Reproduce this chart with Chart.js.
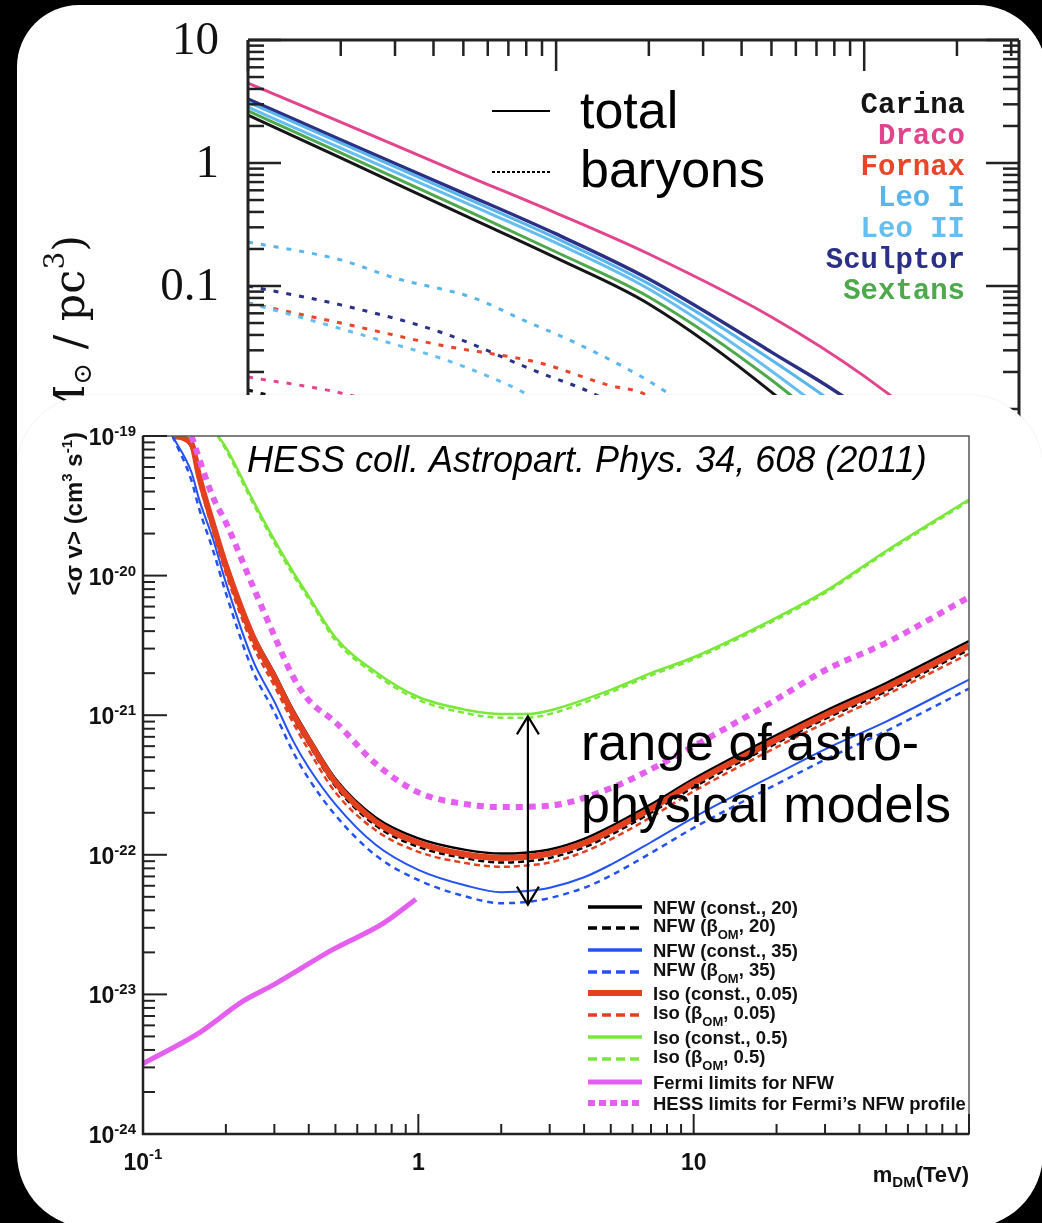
<!DOCTYPE html>
<html>
<head>
<meta charset="utf-8">
<script src="https://cdn.jsdelivr.net/npm/chart.js@4.4.1/dist/chart.umd.min.js"></script>
<style>
  html, body { margin: 0; padding: 0; background: #000; }
  #page { position: relative; width: 1042px; height: 1223px; overflow: hidden; background: #000; }
  .panel { position: absolute; background: #fff; }
  #topPanel { left: 17px; top: 5px; width: 1030px; height: 600px; border-radius: 62px 70px 0 0; }
  #botPanel { left: 17px; top: 395px; width: 1026px; height: 833px; border-radius: 75px; box-shadow: 0 0 2px rgba(0,0,0,0.12); }
  #topCanvas { position: absolute; left: 0; top: 0; }
  #botCanvas { position: absolute; left: 0; top: 395px; }
</style>
</head>
<body>
<div id="page">
  <div class="panel" id="topPanel"></div>
  <canvas id="topCanvas" width="1042" height="600"></canvas>
  <div class="panel" id="botPanel"></div>
  <canvas id="botCanvas" width="1042" height="828"></canvas>
</div>
<script>
// ---------- upper panel: dwarf galaxy density profiles (kpc, Msun/pc^3) ----------
const radius = [0.01, 0.02, 0.05, 0.1, 0.2, 0.5, 1, 2, 3];
const carinaTotal   = [2.45, 1.10, 0.378, 0.169, 0.0714, 0.0137, 0.0029, 0.0005, 0.0002];
const dracoTotal    = [4.47, 2.15, 0.81, 0.392, 0.182, 0.056, 0.0185, 0.0047, 0.0018];
const leoITotal     = [3.13, 1.46, 0.530, 0.245, 0.104, 0.025, 0.0072, 0.0014, 0.0005];
const leoIITotal    = [2.85, 1.32, 0.482, 0.224, 0.0946, 0.0204, 0.0052, 0.001, 0.0003];
const sculptorTotal = [3.31, 1.54, 0.570, 0.265, 0.114, 0.029, 0.0095, 0.0018, 0.0006];
const sextansTotal  = [2.65, 1.21, 0.423, 0.189, 0.0815, 0.0172, 0.004, 0.0008, 0.0003];

const leoIBarR = [0.01, 0.02, 0.03, 0.054, 0.078, 0.114, 0.19, 0.23, 0.34, 0.6];
const leoIBar  = [0.228, 0.163, 0.116, 0.080, 0.053, 0.0351, 0.0182, 0.0135, 0.0068, 0.0015];
const leoIIBarR = [0.01, 0.0147, 0.0289, 0.042, 0.061, 0.078, 0.12];
const leoIIBar  = [0.0728, 0.056, 0.0344, 0.026, 0.0182, 0.0137, 0.007];
const sculptorBarR = [0.01, 0.02, 0.042, 0.089, 0.129, 0.19, 0.3];
const sculptorBar  = [0.1, 0.0702, 0.0423, 0.0196, 0.0137, 0.008, 0.003];
const fornaxBarR = [0.01, 0.02, 0.042, 0.089, 0.147, 0.19, 0.3];
const fornaxBar  = [0.0728, 0.050, 0.0331, 0.0236, 0.0157, 0.0135, 0.007];
const dracoBarR = [0.01, 0.02, 0.05];
const dracoBar  = [0.0182, 0.0135, 0.007];
const carinaBarR = [0.01, 0.02, 0.05];
const carinaBar  = [0.0143, 0.009, 0.004];

const galaxyNames  = ['Carina', 'Draco', 'Fornax', 'Leo I', 'Leo II', 'Sculptor', 'Sextans'];
const galaxyColors = ['#151515', '#e2448d', '#e8452a', '#58b6ec', '#66bdf0', '#2b2f86', '#4ea84c'];
const densityTicks = [10, 1, 0.1];

// ---------- lower panel: HESS limits on <sigma v> (TeV, cm^3 s^-1) ----------
const massGrid = [0.128, 0.15, 0.16, 0.18, 0.2, 0.25, 0.3, 0.35, 0.4, 0.5, 0.7, 1, 1.5, 2, 2.5, 3, 4, 5, 7, 10, 20, 30, 50, 100];
const nfw20Const  = [1.0e-19, 8.9e-20, 5.3e-20, 2.4e-20, 1.25e-20, 3.9e-21, 2.0e-21, 1.1e-21, 7.0e-22, 3.5e-22, 1.85e-22, 1.31e-22, 1.08e-22, 1.02e-22, 1.04e-22, 1.09e-22, 1.3e-22, 1.6e-22, 2.3e-22, 3.5e-22, 7.2e-22, 1.07e-21, 1.7e-21, 3.4e-21];
const nfw20Beta   = [1.0e-19, 8.5e-20, 5.0e-20, 2.2e-20, 1.12e-20, 3.5e-21, 1.77e-21, 9.7e-22, 6.2e-22, 3.1e-22, 1.62e-22, 1.14e-22, 9.4e-23, 8.8e-23, 9.0e-23, 9.5e-23, 1.13e-22, 1.39e-22, 2.0e-22, 3.05e-22, 6.3e-22, 9.4e-22, 1.48e-21, 2.95e-21];
const nfw35Const  = [1.0e-19, 5.5e-20, 3.5e-20, 1.8e-20, 8.9e-21, 2.5e-21, 1.25e-21, 6.6e-22, 4.2e-22, 2.3e-22, 1.18e-22, 7.8e-23, 6.0e-23, 5.4e-23, 5.5e-23, 5.8e-23, 6.9e-23, 8.5e-23, 1.23e-22, 1.85e-22, 3.8e-22, 5.7e-22, 9.0e-22, 1.8e-21];
const nfw35Beta   = [1.0e-19, 4.8e-20, 3.0e-20, 1.5e-20, 7.5e-21, 2.1e-21, 1.05e-21, 5.5e-22, 3.5e-22, 1.92e-22, 9.9e-23, 6.6e-23, 5.0e-23, 4.5e-23, 4.6e-23, 4.9e-23, 5.8e-23, 7.1e-23, 1.03e-22, 1.56e-22, 3.2e-22, 4.8e-22, 7.7e-22, 1.55e-21];
const iso005Const = [1.0e-19, 8.8e-20, 5.1e-20, 2.3e-20, 1.18e-20, 3.7e-21, 1.88e-21, 1.03e-21, 6.6e-22, 3.3e-22, 1.73e-22, 1.22e-22, 1.0e-22, 9.5e-23, 9.7e-23, 1.02e-22, 1.21e-22, 1.49e-22, 2.14e-22, 3.27e-22, 6.7e-22, 1.0e-21, 1.58e-21, 3.15e-21];
const iso005Beta  = [1.0e-19, 8.3e-20, 4.7e-20, 2.05e-20, 1.04e-20, 3.2e-21, 1.62e-21, 8.9e-22, 5.6e-22, 2.8e-22, 1.5e-22, 1.05e-22, 8.7e-23, 8.2e-23, 8.4e-23, 8.8e-23, 1.05e-22, 1.29e-22, 1.86e-22, 2.85e-22, 5.9e-22, 8.8e-22, 1.4e-21, 2.75e-21];

const isoGrid = [0.187, 0.2, 0.25, 0.3, 0.35, 0.4, 0.5, 0.7, 1, 1.5, 2, 2.5, 3, 5, 7, 10, 20, 30, 50, 100];
const iso05Const = [1.0e-19, 8.3e-20, 3.5e-20, 1.8e-20, 1.07e-20, 7.1e-21, 3.6e-21, 2.04e-21, 1.35e-21, 1.09e-21, 1.02e-21, 1.02e-21, 1.08e-21, 1.52e-21, 2.0e-21, 2.6e-21, 5.0e-21, 7.7e-21, 1.5e-20, 3.5e-20];
const iso05Beta  = [1.0e-19, 8.0e-20, 3.35e-20, 1.72e-20, 1.02e-20, 6.8e-21, 3.45e-21, 1.95e-21, 1.29e-21, 1.03e-21, 9.6e-22, 9.6e-22, 1.02e-21, 1.46e-21, 1.93e-21, 2.52e-21, 4.85e-21, 7.5e-21, 1.46e-20, 3.42e-20];

const hessGrid = [0.15, 0.18, 0.2, 0.25, 0.3, 0.35, 0.4, 0.5, 0.7, 1, 1.5, 2, 3, 5, 7, 10, 20, 30, 50, 100];
const hessFermiProfile = [1.0e-19, 3.6e-20, 2.4e-20, 8.5e-21, 3.7e-21, 1.9e-21, 1.28e-21, 8.9e-22, 4.5e-22, 2.8e-22, 2.3e-22, 2.2e-22, 2.25e-22, 3.0e-22, 4.1e-22, 6.0e-22, 1.3e-21, 2.1e-21, 3.3e-21, 7.0e-21];

const fermiGrid = [0.1, 0.16, 0.23, 0.3, 0.49, 0.74, 0.98];
const fermiNFW  = [3.2e-24, 5.3e-24, 8.9e-24, 1.18e-23, 2.1e-23, 3.2e-23, 4.8e-23];

const sigmaExps = [-19, -20, -21, -22, -23, -24];
const massTickLabels = [{ v: 0.1, base: '10', sup: '-1' }, { v: 1, base: '1' }, { v: 10, base: '10' }];

// ---------- helpers ----------
const pts = (xs, ys) => xs.map((x, i) => ({ x: x, y: ys[i] }));
const SANS = '"Liberation Sans", Arial, Helvetica, sans-serif';
const SERIF = '"Liberation Serif", "Times New Roman", serif';
const WIDE_SERIF = '"DejaVu Serif", "Liberation Serif", serif';

function logTicks(min, max) {
  const out = [];
  for (let e = Math.floor(Math.log10(min)) - 1; e <= Math.ceil(Math.log10(max)); e++) {
    for (let m = 1; m <= 9; m++) {
      const v = m * Math.pow(10, e);
      if (v >= min * 0.999 && v <= max * 1.001) out.push({ v: v, major: m === 1 });
    }
  }
  return out;
}

function runsWidth(ctx, runs) {
  let w = 0;
  runs.forEach(r => { ctx.font = r.font; w += ctx.measureText(r.t).width; });
  return w;
}

function drawRuns(ctx, runs, x, y) {
  let cx = x;
  ctx.textAlign = 'left';
  ctx.textBaseline = 'alphabetic';
  runs.forEach(r => {
    ctx.font = r.font;
    ctx.fillText(r.t, cx, y + (r.dy || 0));
    cx += ctx.measureText(r.t).width;
  });
  return cx - x;
}

function line(ctx, x1, y1, x2, y2) {
  ctx.beginPath(); ctx.moveTo(x1, y1); ctx.lineTo(x2, y2); ctx.stroke();
}

// ---------- upper chart ----------
function solid(label, xs, ys, color, width) {
  return { label: label, data: pts(xs, ys), borderColor: color, borderWidth: width, showLine: true, pointRadius: 0, fill: false };
}
function dotted(label, xs, ys, color) {
  return { label: label, data: pts(xs, ys), borderColor: color, borderWidth: 3, borderDash: [5, 8], showLine: true, pointRadius: 0, fill: false };
}

const topDecor = {
  id: 'topDecor',
  afterDatasetsDraw(chart) {
    const { ctx, chartArea: a, scales: { x, y } } = chart;
    ctx.save();
    ctx.strokeStyle = '#222';
    ctx.lineWidth = 3;
    line(ctx, a.left, a.top, a.right, a.top);
    line(ctx, a.left, a.top, a.left, a.bottom);
    line(ctx, a.right, a.top, a.right, a.bottom);
    ctx.lineWidth = 2.5;
    logTicks(y.min, y.max).forEach(t => {
      const py = y.getPixelForValue(t.v);
      const len = t.major ? 33 : 16;
      line(ctx, a.left, py, a.left + len, py);
      line(ctx, a.right, py, a.right - len, py);
    });
    logTicks(x.min, x.max).forEach(t => {
      const px = x.getPixelForValue(t.v);
      line(ctx, px, a.top, px, a.top + (t.major ? 31 : 16));
    });

    // y tick labels
    ctx.fillStyle = '#111';
    ctx.font = '47px ' + SERIF;
    ctx.textAlign = 'right';
    ctx.textBaseline = 'middle';
    densityTicks.forEach(v => ctx.fillText(String(v), 219, y.getPixelForValue(v) + 2));

    // rotated y title (lower part hidden behind the second panel)
    ctx.save();
    ctx.translate(84, 235);
    ctx.rotate(-Math.PI / 2);
    const titleRuns = [
      { t: '\u03c1 (M', font: '43px ' + WIDE_SERIF },
      { t: '\u2299', font: '26px ' + WIDE_SERIF, dy: 7 },
      { t: ' / pc', font: '43px ' + WIDE_SERIF },
      { t: '3', font: '28px ' + WIDE_SERIF, dy: -20 },
      { t: ')', font: '43px ' + WIDE_SERIF }
    ];
    drawRuns(ctx, titleRuns, -runsWidth(ctx, titleRuns), 0);
    ctx.restore();

    // line style key
    ctx.strokeStyle = '#000';
    ctx.lineWidth = 2;
    line(ctx, 492, 111, 550, 111);
    ctx.setLineDash([3, 2]);
    line(ctx, 492, 172, 550, 172);
    ctx.setLineDash([]);
    ctx.fillStyle = '#000';
    ctx.font = '52px ' + SANS;
    ctx.textAlign = 'left';
    ctx.textBaseline = 'alphabetic';
    ctx.fillText('total', 580, 128);
    ctx.fillText('baryons', 580, 187);

    // galaxy names
    ctx.font = 'bold 29px "Liberation Mono", "Courier New", monospace';
    ctx.textAlign = 'right';
    galaxyNames.forEach((n, i) => {
      ctx.fillStyle = galaxyColors[i];
      ctx.fillText(n, 965, 113 + i * 31);
    });
    ctx.restore();
  }
};

new Chart(document.getElementById('topCanvas'), {
  type: 'scatter',
  data: {
    datasets: [
      dotted('Leo I baryons', leoIBarR, leoIBar, galaxyColors[3]),
      dotted('Leo II baryons', leoIIBarR, leoIIBar, galaxyColors[4]),
      dotted('Fornax baryons', fornaxBarR, fornaxBar, galaxyColors[2]),
      dotted('Sculptor baryons', sculptorBarR, sculptorBar, galaxyColors[5]),
      dotted('Draco baryons', dracoBarR, dracoBar, galaxyColors[1]),
      dotted('Carina baryons', carinaBarR, carinaBar, galaxyColors[0]),
      solid('Carina', radius, carinaTotal, galaxyColors[0], 3),
      solid('Sextans', radius, sextansTotal, galaxyColors[6], 3),
      solid('Leo II', radius, leoIITotal, galaxyColors[4], 3),
      solid('Leo I', radius, leoITotal, galaxyColors[3], 3),
      solid('Sculptor', radius, sculptorTotal, galaxyColors[5], 3.5),
      solid('Draco', radius, dracoTotal, galaxyColors[1], 3)
    ]
  },
  options: {
    responsive: false,
    animation: false,
    layout: { padding: { left: 248, top: 40, right: 23, bottom: 68 } },
    plugins: { legend: { display: false }, tooltip: { enabled: false } },
    elements: { line: { cubicInterpolationMode: 'monotone' }, point: { radius: 0 } },
    scales: {
      x: { type: 'logarithmic', min: 0.01, max: 3.18, display: false },
      y: { type: 'logarithmic', min: 0.001, max: 10, display: false }
    }
  },
  plugins: [topDecor]
});

// ---------- lower chart ----------
const BLACK = '#000000', BLUE = '#2452f2', RED = '#e2401f', GREEN = '#7ae83a', MAGENTA = '#e45ef0';

function curve(label, xs, ys, color, width, dash, legendDash) {
  return {
    label: label, data: pts(xs, ys), borderColor: color, borderWidth: width,
    borderDash: dash || [], legendDash: legendDash || [], showLine: true, pointRadius: 0, fill: false
  };
}

const sig = {
  nfw20c: curve('NFW (const., 20)', massGrid, nfw20Const, BLACK, 2.5),
  nfw20b: curve('NFW (beta, 20)', massGrid, nfw20Beta, BLACK, 2.5, [6, 4], [9, 5]),
  nfw35c: curve('NFW (const., 35)', massGrid, nfw35Const, BLUE, 2),
  nfw35b: curve('NFW (beta, 35)', massGrid, nfw35Beta, BLUE, 2.5, [6, 5], [9, 5]),
  iso005c: curve('Iso (const., 0.05)', massGrid, iso005Const, RED, 6),
  iso005b: curve('Iso (beta, 0.05)', massGrid, iso005Beta, RED, 2.5, [6, 4], [9, 5]),
  iso05c: curve('Iso (const., 0.5)', isoGrid, iso05Const, GREEN, 2.5),
  iso05b: curve('Iso (beta, 0.5)', isoGrid, iso05Beta, GREEN, 2.5, [6, 4], [9, 5]),
  fermi: curve('Fermi limits for NFW', fermiGrid, fermiNFW, MAGENTA, 5),
  hess: curve('HESS limits for Fermi NFW', hessGrid, hessFermiProfile, MAGENTA, 6, [7, 6], [7, 4])
};

const legendKeys = ['nfw20c', 'nfw20b', 'nfw35c', 'nfw35b', 'iso005c', 'iso005b', 'iso05c', 'iso05b', 'fermi', 'hess'];
const legendTexts = [
  ['NFW (const., 20)'], ['NFW (\u03b2', 'OM', ', 20)'],
  ['NFW (const., 35)'], ['NFW (\u03b2', 'OM', ', 35)'],
  ['Iso (const., 0.05)'], ['Iso (\u03b2', 'OM', ', 0.05)'],
  ['Iso (const., 0.5)'], ['Iso (\u03b2', 'OM', ', 0.5)'],
  ['Fermi limits for NFW'], ['HESS limits for Fermi\u2019s NFW profile']
];
const legendRows = [512, 533, 555, 577, 598, 620, 642, 664, 687, 708];

const botDecor = {
  id: 'botDecor',
  afterDatasetsDraw(chart) {
    const { ctx, chartArea: a, scales: { x, y } } = chart;
    ctx.save();
    // frame and ticks
    ctx.strokeStyle = '#555';
    ctx.lineWidth = 1.5;
    ctx.strokeRect(a.left, a.top, a.right - a.left, a.bottom - a.top);
    ctx.strokeStyle = '#222';
    ctx.lineWidth = 2.5;
    ctx.beginPath(); ctx.moveTo(a.left, a.top); ctx.lineTo(a.left, a.bottom); ctx.lineTo(a.right, a.bottom); ctx.stroke();
    ctx.lineWidth = 2;
    logTicks(y.min, y.max).forEach(t => {
      const py = y.getPixelForValue(t.v);
      line(ctx, a.left, py, a.left + (t.major ? 24 : 12), py);
    });
    logTicks(x.min, x.max).forEach(t => {
      const px = x.getPixelForValue(t.v);
      line(ctx, px, a.bottom, px, a.bottom - (t.major ? 20 : 10));
    });

    // tick labels
    ctx.fillStyle = '#111';
    sigmaExps.forEach(e => {
      const runs = [{ t: '10', font: 'bold 23px ' + SANS }, { t: String(e), font: 'bold 15px ' + SANS, dy: -9 }];
      const py = y.getPixelForValue(Math.pow(10, e));
      drawRuns(ctx, runs, 136 - runsWidth(ctx, runs), py + 9);
    });
    massTickLabels.forEach(l => {
      const runs = [{ t: l.base, font: 'bold 23px ' + SANS }];
      if (l.sup) runs.push({ t: l.sup, font: 'bold 15px ' + SANS, dy: -11 });
      const px = x.getPixelForValue(l.v);
      drawRuns(ctx, runs, px - runsWidth(ctx, runs) / 2, 775);
    });

    // axis titles
    const xt = [
      { t: 'm', font: 'bold 22px ' + SANS },
      { t: 'DM', font: 'bold 15px ' + SANS, dy: 5 },
      { t: '(TeV)', font: 'bold 22px ' + SANS }
    ];
    drawRuns(ctx, xt, a.right - runsWidth(ctx, xt), 787);

    ctx.save();
    ctx.translate(82, 37);
    ctx.rotate(-Math.PI / 2);
    const yt = [
      { t: '<\u03c3 v> (cm', font: 'bold 24px ' + SANS },
      { t: '3', font: 'bold 15px ' + SANS, dy: -10 },
      { t: ' s', font: 'bold 24px ' + SANS },
      { t: '-1', font: 'bold 15px ' + SANS, dy: -10 },
      { t: ')', font: 'bold 24px ' + SANS }
    ];
    drawRuns(ctx, yt, -runsWidth(ctx, yt), 0);
    ctx.restore();

    // legend
    legendKeys.forEach((k, i) => {
      const ds = sig[k];
      const ly = legendRows[i];
      ctx.strokeStyle = ds.borderColor;
      ctx.lineWidth = Math.max(ds.borderWidth, 3.5);
      ctx.setLineDash(ds.legendDash);
      line(ctx, 588, ly, 642, ly);
      ctx.setLineDash([]);
      ctx.fillStyle = '#111';
      const parts = legendTexts[i];
      if (parts.length === 1) {
        drawRuns(ctx, [{ t: parts[0], font: 'bold 18.5px ' + SANS }], 653, ly + 7);
      } else {
        drawRuns(ctx, [
          { t: parts[0], font: 'bold 18.5px ' + SANS },
          { t: parts[1], font: 'bold 13px ' + SANS, dy: 7 },
          { t: parts[2], font: 'bold 18.5px ' + SANS }
        ], 653, ly + 4);
      }
    });

    // reference note
    ctx.fillStyle = '#000';
    ctx.font = 'italic 36px ' + SANS;
    ctx.textAlign = 'left';
    ctx.textBaseline = 'alphabetic';
    ctx.fillText('HESS coll. Astropart. Phys. 34, 608 (2011)', 247, 77);

    // range arrow between the extreme models
    const ax = x.getPixelForValue(2.5);
    const yTop = y.getPixelForValue(9.8e-22);
    const yBot = y.getPixelForValue(4.4e-23);
    ctx.strokeStyle = '#000';
    ctx.lineWidth = 2.2;
    line(ctx, ax, yTop, ax, yBot);
    ctx.beginPath();
    ctx.moveTo(ax - 11, yTop + 18); ctx.lineTo(ax, yTop); ctx.lineTo(ax + 11, yTop + 18);
    ctx.moveTo(ax - 11, yBot - 18); ctx.lineTo(ax, yBot); ctx.lineTo(ax + 11, yBot - 18);
    ctx.stroke();

    ctx.font = '52px ' + SANS;
    ctx.fillText('range of astro-', 581, 365);
    ctx.fillText('physical models', 581, 427);
    ctx.restore();
  }
};

new Chart(document.getElementById('botCanvas'), {
  type: 'scatter',
  data: {
    datasets: [
      sig.hess, sig.iso05b, sig.iso05c, sig.nfw35b, sig.nfw35c,
      sig.iso005c, sig.iso005b, sig.nfw20b, sig.nfw20c, sig.fermi
    ]
  },
  options: {
    responsive: false,
    animation: false,
    layout: { padding: { left: 143, top: 41, right: 73, bottom: 89 } },
    plugins: { legend: { display: false }, tooltip: { enabled: false } },
    elements: { line: { cubicInterpolationMode: 'monotone' }, point: { radius: 0 } },
    scales: {
      x: { type: 'logarithmic', min: 0.1, max: 100, display: false },
      y: { type: 'logarithmic', min: 1e-24, max: 1e-19, display: false }
    }
  },
  plugins: [botDecor]
});
</script>
</body>
</html>
